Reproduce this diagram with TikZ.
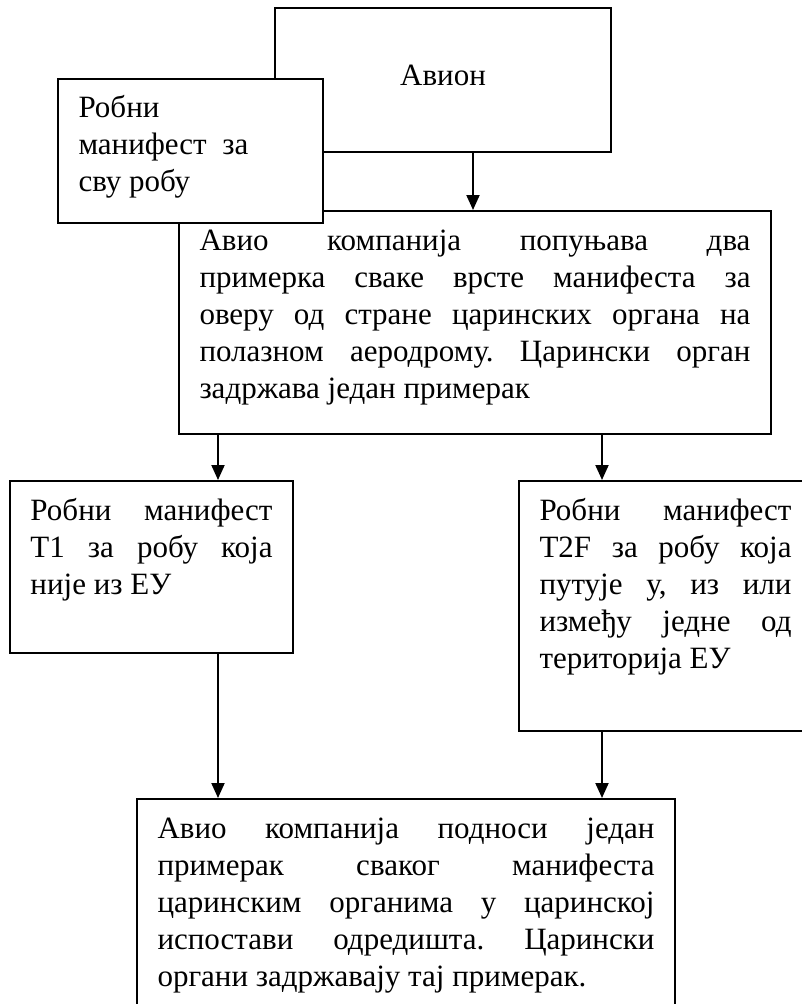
\documentclass[tikz,border=0pt]{standalone}
\usepackage{fontspec}
\setmainfont{Liberation Serif}
\usetikzlibrary{arrows.meta}
\frenchspacing
\tikzset{
  box/.style={draw, line width=2pt, fill=white, inner xsep=20.5pt, inner ysep=0pt,
    anchor=north west, font=\fontsize{31}{37}\selectfont},
  arr/.style={line width=2pt, -{Triangle[length=15pt,width=13pt]}},
}
\newcommand{\boxtext}[4]{\parbox[c][#2][t]{#1}{\frenchspacing\tolerance=10000\hyphenpenalty=10000\vspace*{#3}\strut #4}}
\begin{document}
\begin{tikzpicture}[x=1pt,y=-1pt]
\useasboundingbox (0,0) rectangle (802,1004);
\coordinate (cA) at (473,0);
\coordinate (cL) at (218,0);
\coordinate (cR) at (602,0);
% Avion
\node[box] (avion) at (274,7) {\boxtext{295pt}{144pt}{52pt}{\centering Авион}};
% main box 1
\node[box] (first) at (178,210) {\boxtext{551pt}{223pt}{14pt}{Авио компанија попуњава два\linebreak примерка сваке врсте манифеста за\linebreak оверу од стране царинских органа на\linebreak полазном аеродрому. Царински орган\linebreak задржава један примерак}};
% cargo manifest
\node[box] (robni) at (57,78) {\boxtext{224pt}{144pt}{13pt}{\raggedright Робни\\ манифест\ \ за\\ сву робу}};
% T1
\node[box] (tone) at (9,480) {\boxtext{242pt}{172pt}{14pt}{Робни манифест\linebreak T1 за робу која\linebreak није из ЕУ}};
% T2F
\node[box] (ttwo) at (518,480) {\boxtext{252pt}{250pt}{14pt}{Робни манифест\linebreak T2F за робу која\linebreak путује у, из или\linebreak између једне од\linebreak територија ЕУ}};
% final box
\node[box] (last) at (136,798) {\boxtext{497pt}{220pt}{14pt}{Авио компанија подноси један\linebreak примерак сваког манифеста\linebreak царинским органима у царинској\linebreak испостави одредишта. Царински\linebreak органи задржавају тај примерак.}};
% arrows
\draw[arr] (avion.south -| cA) -- (first.north -| cA);
\draw[arr] (first.south -| cL) -- (tone.north -| cL);
\draw[arr] (first.south -| cR) -- (ttwo.north -| cR);
\draw[arr] (tone.south -| cL) -- (last.north -| cL);
\draw[arr] (ttwo.south -| cR) -- (last.north -| cR);
\end{tikzpicture}
\end{document}
